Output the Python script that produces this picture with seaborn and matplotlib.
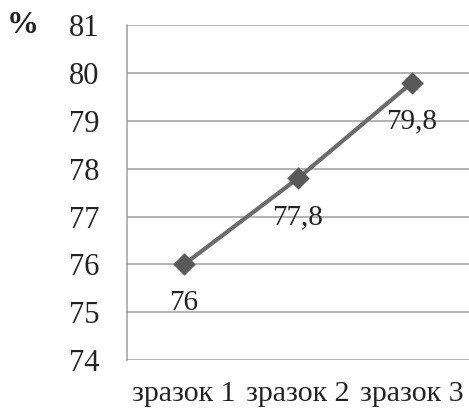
import matplotlib
matplotlib.use("Agg")
import matplotlib.pyplot as plt
import seaborn as sns
import pandas as pd

# дані
zrazky = ["зразок 1", "зразок 2", "зразок 3"]
znachennia = [76.0, 77.8, 79.8]
pidpysy = ["76", "77,8", "79,8"]
y_ticks = [74, 75, 76, 77, 78, 79, 80, 81]

df = pd.DataFrame({"zrazok": zrazky, "value": znachennia})

sns.set_style("white")
plt.rcParams["font.family"] = ["Liberation Serif", "DejaVu Serif"]

fig = plt.figure(figsize=(4.69, 4.12), dpi=100)
ax = fig.add_axes([0.271, 0.126, 0.729, 0.813])

sns.pointplot(data=df, x="zrazok", y="value", order=zrazky, color="#6b6b6b",
              markers="D", markersize=9, linewidth=3, ax=ax)
for line in ax.lines:
    line.set_markerfacecolor("#595959")
    line.set_markeredgecolor("#595959")

for i, (v, t) in enumerate(zip(znachennia, pidpysy)):
    ax.annotate(t, (i, v), xytext=(0, -28), textcoords="offset points",
                ha="center", va="center", fontsize=21, color="#222222")

ax.set_xlim(-0.5, 2.5)
ax.set_ylim(74, 81)
ax.set_yticks(y_ticks)
ax.yaxis.grid(True, color="#a6a6a6", linewidth=1.2)
ax.set_axisbelow(True)
ax.set_xlabel("")
ax.set_ylabel("")

for s in ["top", "right", "bottom"]:
    ax.spines[s].set_visible(False)
ax.spines["left"].set_color("#a6a6a6")
ax.spines["left"].set_linewidth(1.2)

ax.set_xticks([0, 1, 2])
ax.set_xticklabels(zrazky, fontsize=21.5, color="#222222")
ax.set_xticks([-0.5, 0.5, 1.5, 2.5], minor=True)
ax.tick_params(axis="x", which="major", length=0, pad=15)
ax.tick_params(axis="x", which="minor", length=7, width=1.2, color="#a6a6a6", direction="out")
ax.tick_params(axis="y", length=7, width=1.2, color="#a6a6a6", labelsize=22,
               labelcolor="#222222", pad=13)

fig.text(0.048, 0.937, "%", fontsize=23, fontweight="bold", ha="center", va="center",
         color="#222222")

fig.savefig("out.png", dpi=100)
